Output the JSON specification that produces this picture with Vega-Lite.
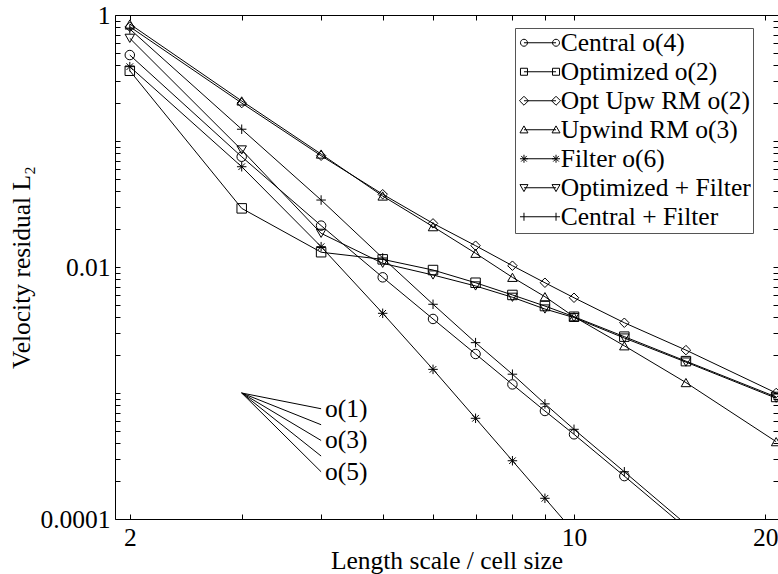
{
  "$schema": "https://vega.github.io/schema/vega-lite/v6.json",
  "width": 663,
  "height": 504,
  "autosize": "none",
  "padding": {"left": 115, "top": 15, "right": 0, "bottom": 55},
  "background": "white",
  "config": {
    "font": "Liberation Serif",
    "view": {"stroke": "black", "strokeWidth": 1},
    "axis": {"labelFont": "Liberation Serif", "titleFont": "Liberation Serif", "labelColor": "black", "titleColor": "black", "tickColor": "black", "titleFontWeight": "normal", "labelFontSize": 25.5, "titleFontSize": 25.5, "grid": false, "domain": false, "labelOverlap": false, "labelFlush": false, "tickWidth": 1},
    "legend": {"labelFont": "Liberation Serif", "labelFontSize": 25.5, "labelColor": "black", "labelLimit": 400}
  },
  "datasets": {
    "series": [
      {"s": "Central o(4)", "x": 2, "y": 0.481},
      {"s": "Central o(4)", "x": 3, "y": 0.075},
      {"s": "Central o(4)", "x": 4, "y": 0.0213},
      {"s": "Central o(4)", "x": 5, "y": 0.00828},
      {"s": "Central o(4)", "x": 6, "y": 0.00387},
      {"s": "Central o(4)", "x": 7, "y": 0.00204},
      {"s": "Central o(4)", "x": 8, "y": 0.00117},
      {"s": "Central o(4)", "x": 9, "y": 0.00072},
      {"s": "Central o(4)", "x": 10, "y": 0.00047},
      {"s": "Central o(4)", "x": 12, "y": 0.000219},
      {"s": "Central o(4)", "x": 15, "y": 0.000085},
      {"s": "Optimized o(2)", "x": 2, "y": 0.361},
      {"s": "Optimized o(2)", "x": 3, "y": 0.0292},
      {"s": "Optimized o(2)", "x": 4, "y": 0.0131},
      {"s": "Optimized o(2)", "x": 5, "y": 0.0115},
      {"s": "Optimized o(2)", "x": 6, "y": 0.00946},
      {"s": "Optimized o(2)", "x": 7, "y": 0.0075},
      {"s": "Optimized o(2)", "x": 8, "y": 0.006},
      {"s": "Optimized o(2)", "x": 9, "y": 0.0049},
      {"s": "Optimized o(2)", "x": 10, "y": 0.00403},
      {"s": "Optimized o(2)", "x": 12, "y": 0.0028},
      {"s": "Optimized o(2)", "x": 15, "y": 0.00179},
      {"s": "Optimized o(2)", "x": 20.8, "y": 0.00093},
      {"s": "Opt Upw RM o(2)", "x": 2, "y": 0.807},
      {"s": "Opt Upw RM o(2)", "x": 3, "y": 0.2},
      {"s": "Opt Upw RM o(2)", "x": 4, "y": 0.0764},
      {"s": "Opt Upw RM o(2)", "x": 5, "y": 0.0378},
      {"s": "Opt Upw RM o(2)", "x": 6, "y": 0.0222},
      {"s": "Opt Upw RM o(2)", "x": 7, "y": 0.01476},
      {"s": "Opt Upw RM o(2)", "x": 8, "y": 0.01024},
      {"s": "Opt Upw RM o(2)", "x": 9, "y": 0.0075},
      {"s": "Opt Upw RM o(2)", "x": 10, "y": 0.0057},
      {"s": "Opt Upw RM o(2)", "x": 12, "y": 0.00361},
      {"s": "Opt Upw RM o(2)", "x": 15, "y": 0.00219},
      {"s": "Opt Upw RM o(2)", "x": 20.8, "y": 0.001},
      {"s": "Upwind RM o(3)", "x": 2, "y": 0.848},
      {"s": "Upwind RM o(3)", "x": 3, "y": 0.208},
      {"s": "Upwind RM o(3)", "x": 4, "y": 0.0788},
      {"s": "Upwind RM o(3)", "x": 5, "y": 0.0366},
      {"s": "Upwind RM o(3)", "x": 6, "y": 0.0209},
      {"s": "Upwind RM o(3)", "x": 7, "y": 0.01285},
      {"s": "Upwind RM o(3)", "x": 8, "y": 0.00828},
      {"s": "Upwind RM o(3)", "x": 9, "y": 0.00581},
      {"s": "Upwind RM o(3)", "x": 10, "y": 0.00403},
      {"s": "Upwind RM o(3)", "x": 12, "y": 0.00237},
      {"s": "Upwind RM o(3)", "x": 15, "y": 0.00121},
      {"s": "Upwind RM o(3)", "x": 20.8, "y": 0.000411},
      {"s": "Filter o(6)", "x": 2, "y": 0.389},
      {"s": "Filter o(6)", "x": 3, "y": 0.0625},
      {"s": "Filter o(6)", "x": 4, "y": 0.0145},
      {"s": "Filter o(6)", "x": 5, "y": 0.00429},
      {"s": "Filter o(6)", "x": 6, "y": 0.00154},
      {"s": "Filter o(6)", "x": 7, "y": 0.00063},
      {"s": "Filter o(6)", "x": 8, "y": 0.00029},
      {"s": "Filter o(6)", "x": 9, "y": 0.000146},
      {"s": "Filter o(6)", "x": 10, "y": 0.000079},
      {"s": "Optimized + Filter", "x": 2, "y": 0.653},
      {"s": "Optimized + Filter", "x": 3, "y": 0.0849},
      {"s": "Optimized + Filter", "x": 4, "y": 0.0185},
      {"s": "Optimized + Filter", "x": 5, "y": 0.0107},
      {"s": "Optimized + Filter", "x": 6, "y": 0.00864},
      {"s": "Optimized + Filter", "x": 7, "y": 0.00707},
      {"s": "Optimized + Filter", "x": 8, "y": 0.00575},
      {"s": "Optimized + Filter", "x": 9, "y": 0.00464},
      {"s": "Optimized + Filter", "x": 10, "y": 0.00397},
      {"s": "Optimized + Filter", "x": 12, "y": 0.00273},
      {"s": "Optimized + Filter", "x": 15, "y": 0.00176},
      {"s": "Optimized + Filter", "x": 20.8, "y": 0.00091},
      {"s": "Central + Filter", "x": 2, "y": 0.774},
      {"s": "Central + Filter", "x": 3, "y": 0.124},
      {"s": "Central + Filter", "x": 4, "y": 0.034},
      {"s": "Central + Filter", "x": 5, "y": 0.0118},
      {"s": "Central + Filter", "x": 6, "y": 0.00506},
      {"s": "Central + Filter", "x": 7, "y": 0.00251},
      {"s": "Central + Filter", "x": 8, "y": 0.00141},
      {"s": "Central + Filter", "x": 9, "y": 0.00082},
      {"s": "Central + Filter", "x": 10, "y": 0.000515},
      {"s": "Central + Filter", "x": 12, "y": 0.000237},
      {"s": "Central + Filter", "x": 15, "y": 0.000091}
    ],
    "slopes": [
      {"label": "o(1)", "x": 3, "y": 0.001, "x2": 4, "y2": 0.00075},
      {"label": "", "x": 3, "y": 0.001, "x2": 4, "y2": 0.00056},
      {"label": "o(3)", "x": 3, "y": 0.001, "x2": 4, "y2": 0.00042},
      {"label": "", "x": 3, "y": 0.001, "x2": 4, "y2": 0.000316},
      {"label": "o(5)", "x": 3, "y": 0.001, "x2": 4, "y2": 0.000237}
    ]
  },
  "resolve": {"axis": {"x": "independent", "y": "independent"}, "scale": {"shape": "independent"}, "legend": {"shape": "independent"}},
  "layer": [
    {
      "data": {"name": "series"},
      "mark": {"type": "line", "color": "black", "strokeWidth": 1, "clip": true},
      "encoding": {
        "x": {"field": "x", "type": "quantitative",
          "scale": {"type": "log", "domain": [1.8956, 20.94], "nice": false, "zero": false},
          "axis": {"orient": "bottom", "values": [2, 3, 4, 5, 6, 7, 8, 9, 10, 20],
            "labelExpr": "datum.value == 2 ? '2' : datum.value == 10 ? '10' : datum.value == 20 ? '20' : ''",
            "tickSize": -5, "labelPadding": 11,
            "encode": {"ticks": {"update": {"y2": {"signal": "datum.value == 10 ? -12 : -5"}}}},
            "title": "Length scale / cell size", "titlePadding": -2}},
        "y": {"field": "y", "type": "quantitative",
          "scale": {"type": "log", "domain": [0.0001, 1], "nice": false, "zero": false},
          "axis": {"orient": "left",
            "values": [0.0001, 0.0002, 0.0003, 0.0004, 0.0005, 0.0006, 0.0007, 0.0008, 0.0009, 0.001, 0.002, 0.003, 0.004, 0.005, 0.006, 0.007, 0.008, 0.009, 0.01, 0.02, 0.03, 0.04, 0.05, 0.06, 0.07, 0.08, 0.09, 0.1, 0.2, 0.3, 0.4, 0.5, 0.6, 0.7, 0.8, 0.9, 1],
            "labelExpr": "datum.value == 0.0001 ? '0.0001' : datum.value == 0.01 ? '0.01' : datum.value == 1 ? '1' : ''",
            "tickSize": -5, "labelPadding": 10,
            "encode": {"ticks": {"update": {"x2": {"signal": "(datum.value == 0.0001 || datum.value == 0.01 || datum.value == 1) ? 12 : 5"}}}},
            "title": "Velocity residual L₂", "titlePadding": 5}},
        "detail": {"field": "s"}
      }
    },
    {
      "data": {"name": "series"},
      "mark": {"type": "point", "filled": false, "color": "black", "strokeWidth": 1, "opacity": 1, "size": 90, "clip": true},
      "encoding": {
        "x": {"field": "x", "type": "quantitative",
          "axis": {"orient": "top", "values": [2, 3, 4, 5, 6, 7, 8, 9, 10, 20], "labels": false, "title": null,
            "tickSize": -5,
            "encode": {"ticks": {"update": {"y2": {"signal": "datum.value == 10 ? 12 : 5"}}}}}},
        "y": {"field": "y", "type": "quantitative",
          "axis": {"orient": "right",
            "values": [0.0001, 0.0002, 0.0003, 0.0004, 0.0005, 0.0006, 0.0007, 0.0008, 0.0009, 0.001, 0.002, 0.003, 0.004, 0.005, 0.006, 0.007, 0.008, 0.009, 0.01, 0.02, 0.03, 0.04, 0.05, 0.06, 0.07, 0.08, 0.09, 0.1, 0.2, 0.3, 0.4, 0.5, 0.6, 0.7, 0.8, 0.9, 1],
            "labels": false, "title": null, "tickSize": -5,
            "encode": {"ticks": {"update": {"x2": {"signal": "(datum.value == 0.0001 || datum.value == 0.01 || datum.value == 1) ? -12 : -5"}}}}}},
        "shape": {"field": "s", "type": "nominal", "legend": null,
          "scale": {
            "domain": ["Central o(4)", "Optimized o(2)", "Opt Upw RM o(2)", "Upwind RM o(3)", "Filter o(6)", "Optimized + Filter", "Central + Filter"],
            "range": ["circle", "square", "diamond", "triangle-up", "M-1,0H1M0,-1V1M-0.7,-0.7L0.7,0.7M-0.7,0.7L0.7,-0.7", "triangle-down", "M-1,0H1M0,-1V1"]
          }
        }
      }
    },
    {
      "data": {"name": "series"},
      "transform": [{"filter": "false"}],
      "mark": {"type": "point", "filled": false, "color": "black", "strokeWidth": 1, "opacity": 1, "size": 196},
      "encoding": {
        "x": {"field": "x", "type": "quantitative", "axis": null},
        "y": {"field": "y", "type": "quantitative", "axis": null},
        "shape": {"field": "s", "type": "nominal",
          "scale": {
            "domain": ["Central o(4)", "Optimized o(2)", "Opt Upw RM o(2)", "Upwind RM o(3)", "Filter o(6)", "Optimized + Filter", "Central + Filter"],
            "range": [
              "M-2.29,0H2.29M-1.79,0A0.5,0.5,0,1,1,-2.79,0A0.5,0.5,0,1,1,-1.79,0M2.79,0A0.5,0.5,0,1,1,1.79,0A0.5,0.5,0,1,1,2.79,0",
              "M-2.29,0H2.29M-2.79,-0.5H-1.79V0.5H-2.79ZM1.79,-0.5H2.79V0.5H1.79Z",
              "M-2.29,0H2.29M-2.93,0L-2.29,-0.64L-1.65,0L-2.29,0.64ZM1.65,0L2.29,-0.64L2.93,0L2.29,0.64Z",
              "M-2.29,0H2.29M-2.29,-0.55L-2.86,0.45L-1.72,0.45ZM2.29,-0.55L1.72,0.45L2.86,0.45Z",
              "M-2.29,0H2.29M-2.86,0H-1.72M-2.29,-0.57V0.57M-2.69,-0.4L-1.89,0.4M-2.69,0.4L-1.89,-0.4M1.72,0H2.86M2.29,-0.57V0.57M1.89,-0.4L2.69,0.4M1.89,0.4L2.69,-0.4",
              "M-2.29,0H2.29M-2.29,0.55L-2.86,-0.45L-1.72,-0.45ZM2.29,0.55L1.72,-0.45L2.86,-0.45Z",
              "M-2.86,0H2.86M-2.29,-0.57V0.57M2.29,-0.57V0.57"
            ]
          },
          "legend": {
            "orient": "none", "legendX": 400, "legendY": 13, "title": null,
            "symbolSize": 196, "symbolStrokeWidth": 1, "symbolOpacity": 1,
            "symbolFillColor": "transparent", "symbolStrokeColor": "black",
            "symbolOffset": 10.25,
            "labelFont": "Liberation Serif", "labelFontSize": 25.5, "labelColor": "black", "labelOffset": 8, "labelLimit": 400,
            "rowPadding": 2, "padding": 2, "fillColor": "white", "strokeColor": "#555"
          }
        }
      }
    },
    {
      "data": {"name": "slopes"},
      "mark": {"type": "rule", "color": "black", "strokeWidth": 1},
      "encoding": {
        "x": {"field": "x", "type": "quantitative", "axis": null},
        "y": {"field": "y", "type": "quantitative", "axis": null},
        "x2": {"field": "x2"},
        "y2": {"field": "y2"}
      }
    },
    {
      "data": {"name": "slopes"},
      "transform": [{"filter": "datum.label != ''"}],
      "mark": {"type": "text", "align": "left", "baseline": "middle", "dx": 4, "font": "Liberation Serif", "fontSize": 25.5, "color": "black"},
      "encoding": {
        "x": {"field": "x2", "type": "quantitative", "axis": null},
        "y": {"field": "y2", "type": "quantitative", "axis": null},
        "text": {"field": "label"}
      }
    }
  ]
}
